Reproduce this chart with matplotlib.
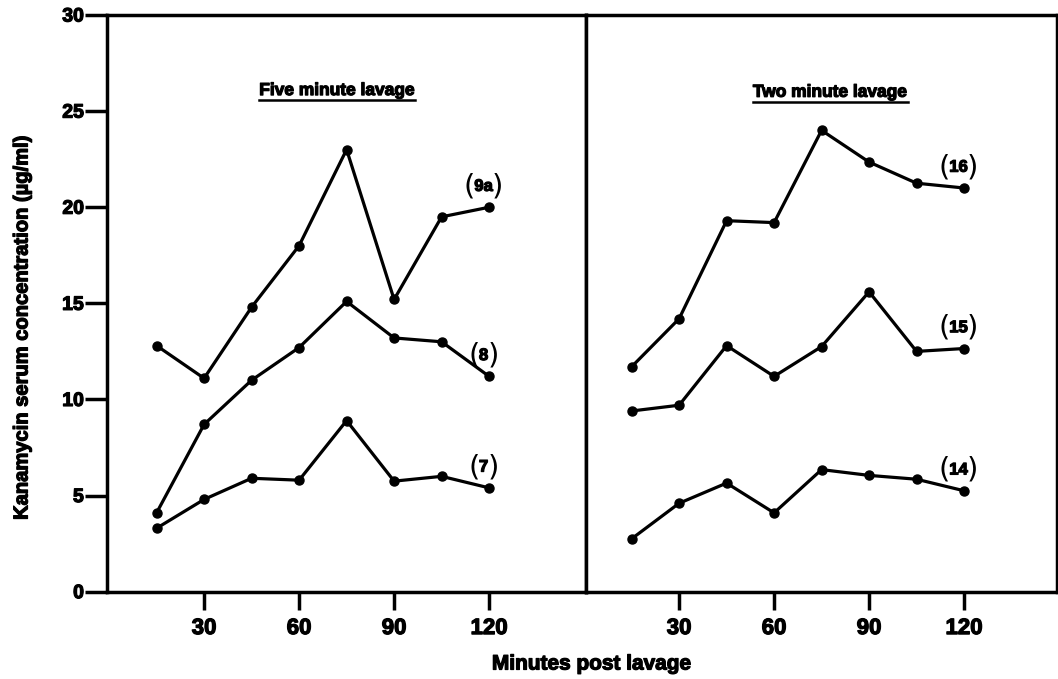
import matplotlib.pyplot as plt
import matplotlib.patheffects as pe
from matplotlib.lines import Line2D

# sampling times (minutes post lavage)
minutes = [15, 30, 45, 60, 75, 90, 105, 120]

# five minute lavage
five_9a = [12.8, 11.1, 14.8, 18.0, 23.0, 15.2, 19.5, 20.0]
five_8 = [4.1, 8.7, 11.0, 12.7, 15.1, 13.2, 13.0, 11.2]
five_7 = [3.3, 4.8, 5.9, 5.8, 8.9, 5.75, 6.0, 5.4]

# two minute lavage
two_16 = [11.7, 14.2, 19.3, 19.2, 24.0, 22.35, 21.25, 21.0]
two_15 = [9.4, 9.7, 12.8, 11.2, 12.75, 15.6, 12.5, 12.65]
two_14 = [2.75, 4.6, 5.65, 4.1, 6.35, 6.05, 5.85, 5.25]

five_names = ['9a', '8', '7']
two_names = ['16', '15', '14']

x_ticks = [30, 60, 90, 120]
y_ticks = [0, 5, 10, 15, 20, 25, 30]

plt.rcParams['font.family'] = ['Liberation Sans', 'DejaVu Sans']
plt.rcParams['font.weight'] = 'bold'

# make the bold text a bit heavier, like the printed original
heavy = [pe.withStroke(linewidth=0.9, foreground='black')]

fig = plt.figure(figsize=(10.58, 6.79), dpi=100)
ax1 = fig.add_axes([0.1016, 0.1286, 0.4523, 0.8493])
ax2 = fig.add_axes([0.5539, 0.1286, 0.4447, 0.8493])


def draw_panel(ax, series, names, title, tx, ty):
    for vals, name in zip(series, names):
        ax.plot(minutes, vals, color='black', lw=2.3, marker='o', ms=6.5)
        inner = ax.annotate(name, xy=(minutes[-1], vals[-1]), xytext=(-4, 15),
                            textcoords='offset points', ha='center', va='center',
                            fontsize=12, fontweight='bold', path_effects=heavy)
        ax.annotate('(', xy=(0, 0.5), xycoords=inner, xytext=(0.5, 0),
                    textcoords='offset points', ha='right', va='center',
                    fontsize=21, fontweight='normal', fontfamily='DejaVu Sans')
        ax.annotate(')', xy=(1, 0.5), xycoords=inner, xytext=(-0.5, 0),
                    textcoords='offset points', ha='left', va='center',
                    fontsize=21, fontweight='normal', fontfamily='DejaVu Sans')
    ax.set_ylim(0, 30)
    ax.set_xticks(x_ticks)
    ax.set_xticklabels([str(v) for v in x_ticks], fontsize=16, fontweight='bold')
    for lab in ax.get_xticklabels():
        lab.set_path_effects(heavy)
    ax.tick_params(axis='x', length=13, width=2.5, pad=6)
    for s in ax.spines.values():
        s.set_linewidth(2.5)
    t = ax.text(tx, ty, title, transform=ax.transAxes, ha='center', va='center',
                fontsize=12.5, fontweight='bold', path_effects=heavy)
    return t


t1 = draw_panel(ax1, [five_9a, five_8, five_7], five_names, 'Five minute lavage', 0.480, 0.869)
t2 = draw_panel(ax2, [two_16, two_15, two_14], two_names, 'Two minute lavage', 0.519, 0.866)

ax1.set_xlim(-0.5, 150.6)
ax2.set_xlim(0.6, 149.2)

ax1.set_yticks(y_ticks)
ax1.set_yticklabels([str(v) for v in y_ticks], fontsize=14, fontweight='bold')
for lab in ax1.get_yticklabels():
    lab.set_path_effects(heavy)
ax1.tick_params(axis='y', length=16, width=2.5, pad=1)
ax2.tick_params(axis='y', left=False, labelleft=False)

fig.text(22 / 1058, 1 - 328 / 679, 'Kanamycin serum concentration (µg/ml)',
         rotation=90, ha='center', va='center', fontsize=14.5, fontweight='bold',
         path_effects=heavy)
fig.text(592 / 1058, 1 - 664 / 679, 'Minutes post lavage',
         ha='center', va='center', fontsize=15, fontweight='bold', path_effects=heavy)

# underline the panel titles
fig.canvas.draw()
renderer = fig.canvas.get_renderer()
inv = fig.transFigure.inverted()
for t in (t1, t2):
    bb = t.get_window_extent(renderer)
    (x0, y0), (x1, _) = inv.transform([(bb.x0, bb.y0 - 2), (bb.x1, bb.y0 - 2)])
    fig.add_artist(Line2D([x0, x1], [y0, y0], color='black', lw=1.8,
                          transform=fig.transFigure))

fig.savefig('out.png', dpi=100)
